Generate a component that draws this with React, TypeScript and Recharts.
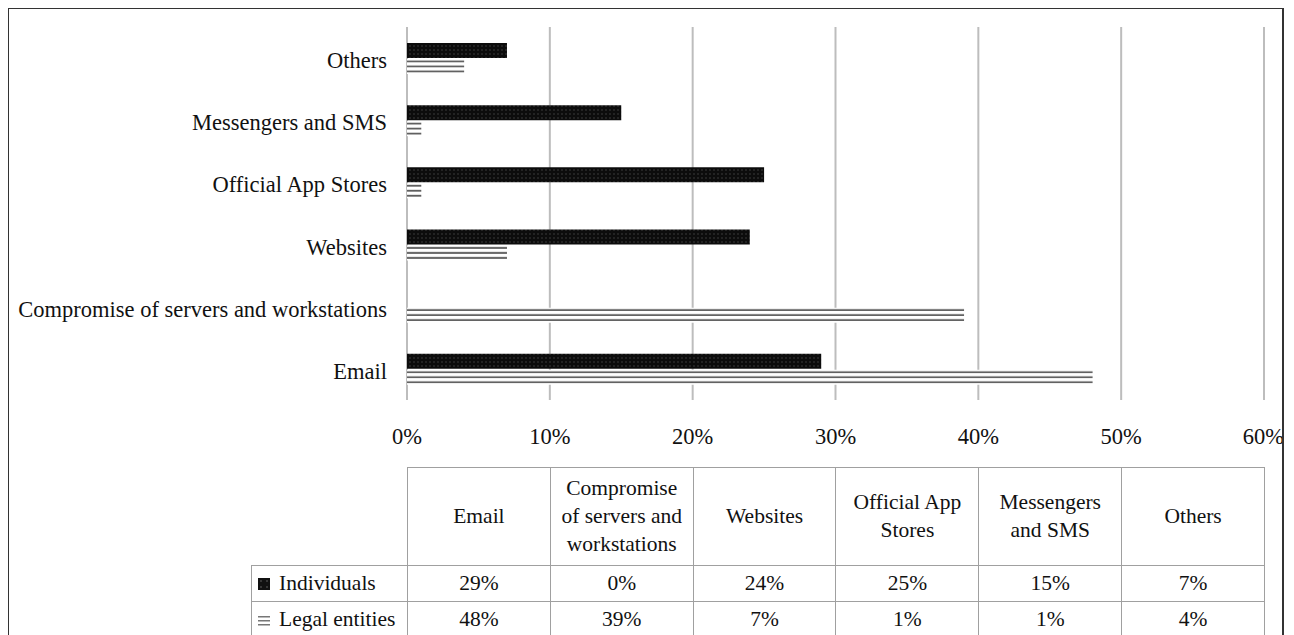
import { BarChart, Bar, XAxis, YAxis, CartesianGrid } from 'recharts'

const categories = [
  'Email',
  'Compromise of servers and workstations',
  'Websites',
  'Official App Stores',
  'Messengers and SMS',
  'Others',
]
const individuals = [29, 0, 24, 25, 15, 7]
const legalEntities = [48, 39, 7, 1, 1, 4]
const xTicks = [0, 10, 20, 30, 40, 50, 60]
const seriesNames = ['Individuals', 'Legal entities']

const font = "'Liberation Serif', 'Times New Roman', Tinos, serif"

// chart draws top-to-bottom, table reads left-to-right: reverse for the bars
const chartData = categories
  .map((name, i) => ({ name, individuals: individuals[i], legal: legalEntities[i] }))
  .reverse()

const cell: React.CSSProperties = {
  border: '1px solid #a0a0a0',
  textAlign: 'center',
  verticalAlign: 'middle',
  padding: '0 8px',
  height: 35,
}

function Swatch({ kind }: { kind: 'dots' | 'stripes' }) {
  return (
    <svg width={13} height={13} style={{ verticalAlign: '-1px', marginRight: 8 }}>
      {kind === 'dots' ? (
        <>
          <rect x={0} y={0} width={12} height={12} fill="#111" />
          <circle cx={3} cy={3} r={0.8} fill="#666" />
          <circle cx={9} cy={3} r={0.8} fill="#666" />
          <circle cx={3} cy={9} r={0.8} fill="#666" />
          <circle cx={9} cy={9} r={0.8} fill="#666" />
        </>
      ) : (
        <>
          <rect x={0} y={2} width={12} height={1.5} fill="#777" />
          <rect x={0} y={6} width={12} height={1.5} fill="#777" />
          <rect x={0} y={10} width={12} height={1.5} fill="#777" />
        </>
      )}
    </svg>
  )
}

export default function App() {
  const tick = { fill: '#111', fontSize: 22.5, fontFamily: font }
  return (
    <div style={{ position: 'relative', width: 1278, height: 627, fontFamily: font, color: '#111' }}>
      <BarChart
        width={1276}
        height={460}
        data={chartData}
        layout="vertical"
        barSize={15}
        barGap={1}
        margin={{ top: 19, right: 20, left: 0, bottom: 28 }}
      >
        <defs>
          <pattern id="dots" width="4" height="4" patternUnits="userSpaceOnUse">
            <rect x="0" y="0" width="4" height="4" fill="#0c0c0c" />
            <circle cx="2" cy="2" r="0.7" fill="#4a4a4a" />
          </pattern>
          <pattern id="stripes" x="0" y="0" width="1" height="0.3334" patternUnits="objectBoundingBox">
            <rect x="0" y="0" width="2000" height="5" fill="#fff" />
            <rect x="0" y="1.5" width="2000" height="1.8" fill="#5e5e5e" />
          </pattern>
        </defs>
        <CartesianGrid horizontal={false} stroke="#bdbdbd" strokeWidth={2} />
        <XAxis
          type="number"
          domain={[0, 60]}
          ticks={xTicks}
          tickFormatter={(v: number) => `${v}%`}
          axisLine={false}
          tickLine={false}
          tickSize={0}
          tickMargin={28}
          height={40}
          tick={tick}
        />
        <YAxis
          type="category"
          dataKey="name"
          width={399}
          axisLine={false}
          tickLine={false}
          tickSize={0}
          tickMargin={20}
          interval={0}
          tick={{ ...tick, dy: 2 }}
        />
        <Bar dataKey="individuals" name={seriesNames[0]} fill="url(#dots)" isAnimationActive={false} />
        <Bar dataKey="legal" name={seriesNames[1]} fill="url(#stripes)" isAnimationActive={false} />
      </BarChart>

      <table
        style={{
          position: 'absolute',
          left: 243,
          top: 459,
          borderCollapse: 'collapse',
          tableLayout: 'fixed',
          width: 1013,
          fontSize: 21.5,
          lineHeight: '28px',
        }}
      >
        <colgroup>
          <col style={{ width: 156 }} />
          {categories.map((c) => (
            <col key={c} style={{ width: 142.83 }} />
          ))}
        </colgroup>
        <tbody>
          <tr>
            <td style={{ border: 'none', height: 95 }} />
            {categories.map((c) => (
              <td key={c} style={{ ...cell, height: 95 }}>
                {c}
              </td>
            ))}
          </tr>
          <tr>
            <td style={{ ...cell, textAlign: 'left', padding: '0 0 0 6px', whiteSpace: 'nowrap' }}>
              <Swatch kind="dots" />
              {seriesNames[0]}
            </td>
            {individuals.map((v, i) => (
              <td key={i} style={cell}>
                {v}%
              </td>
            ))}
          </tr>
          <tr>
            <td style={{ ...cell, textAlign: 'left', padding: '0 0 0 6px', whiteSpace: 'nowrap' }}>
              <Swatch kind="stripes" />
              {seriesNames[1]}
            </td>
            {legalEntities.map((v, i) => (
              <td key={i} style={cell}>
                {v}%
              </td>
            ))}
          </tr>
        </tbody>
      </table>

      <div
        style={{
          position: 'absolute',
          left: -1,
          top: -1,
          width: 1277,
          height: 628,
          border: '2px solid #333',
          borderBottom: 'none',
          boxSizing: 'border-box',
          pointerEvents: 'none',
        }}
      />
    </div>
  )
}
